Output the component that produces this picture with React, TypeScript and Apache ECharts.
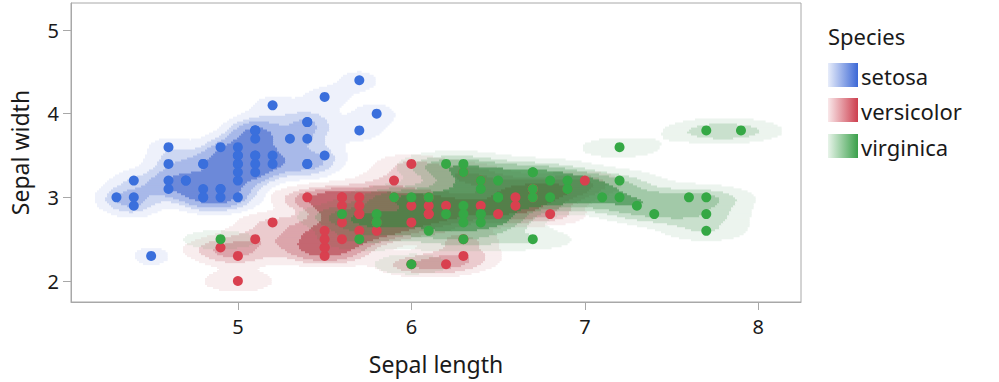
import React, { useEffect, useRef } from 'react';
import * as echarts from 'echarts';

// ---------- data (Fisher's iris, sepal length / sepal width) ----------
const speciesNames = ['setosa', 'versicolor', 'virginica'];

const setosaLength = [5.1,4.9,4.7,4.6,5.0,5.4,4.6,5.0,4.4,4.9,5.4,4.8,4.8,4.3,5.8,5.7,5.4,5.1,5.7,5.1,5.4,5.1,4.6,5.1,4.8,5.0,5.0,5.2,5.2,4.7,4.8,5.4,5.2,5.5,4.9,5.0,5.5,4.9,4.4,5.1,5.0,4.5,4.4,5.0,5.1,4.8,5.1,4.6,5.3,5.0];
const setosaWidth = [3.5,3.0,3.2,3.1,3.6,3.9,3.4,3.4,2.9,3.1,3.7,3.4,3.0,3.0,4.0,4.4,3.9,3.5,3.8,3.8,3.4,3.7,3.6,3.3,3.4,3.0,3.4,3.5,3.4,3.2,3.1,3.4,4.1,4.2,3.1,3.2,3.5,3.6,3.0,3.4,3.5,2.3,3.2,3.5,3.8,3.0,3.8,3.2,3.7,3.3];

const versicolorLength = [7.0,6.4,6.9,5.5,6.5,5.7,6.3,4.9,6.6,5.2,5.0,5.9,6.0,6.1,5.6,6.7,5.6,5.8,6.2,5.6,5.9,6.1,6.3,6.1,6.4,6.6,6.8,6.7,6.0,5.7,5.5,5.5,5.8,6.0,5.4,6.0,6.7,6.3,5.6,5.5,5.5,6.1,5.8,5.0,5.6,5.7,5.7,6.2,5.1,5.7];
const versicolorWidth = [3.2,3.2,3.1,2.3,2.8,2.8,3.3,2.4,2.9,2.7,2.0,3.0,2.2,2.9,2.9,3.1,3.0,2.7,2.2,2.5,3.2,2.8,2.5,2.8,2.9,3.0,2.8,3.0,2.9,2.6,2.4,2.4,2.7,2.7,3.0,3.4,3.1,2.3,3.0,2.5,2.6,3.0,2.6,2.3,2.7,3.0,2.9,2.9,2.5,2.8];

const virginicaLength = [6.3,5.8,7.1,6.3,6.5,7.6,4.9,7.3,6.7,7.2,6.5,6.4,6.8,5.7,5.8,6.4,6.5,7.7,7.7,6.0,6.9,5.6,7.7,6.3,6.7,7.2,6.2,6.1,6.4,7.2,7.4,7.9,6.4,6.3,6.1,7.7,6.3,6.4,6.0,6.9,6.7,6.9,5.8,6.8,6.7,6.7,6.3,6.5,6.2,5.9];
const virginicaWidth = [3.3,2.7,3.0,2.9,3.0,3.0,2.5,2.9,2.5,3.6,3.2,2.7,3.0,2.5,2.8,3.2,3.0,3.8,2.6,2.2,3.2,2.8,2.8,2.7,3.3,3.2,2.8,3.0,2.8,3.0,2.8,3.8,2.8,2.8,2.6,3.0,3.4,3.1,3.0,3.1,3.1,3.1,2.7,3.2,3.3,3.0,2.5,3.0,3.4,3.0];

const xTicks = [5, 6, 7, 8];
const yTicks = [2, 3, 4, 5];

// ---------- styling ----------
const X_MIN = 4.038, X_MAX = 8.246, Y_MIN = 1.749, Y_MAX = 5.323;
const FONT = 'Noto Sans';
const pointColors = ['#3a6fdc', '#d9404f', '#35a845'];
const contourRGB = [[62, 100, 205], [178, 55, 68], [48, 135, 62]];
const legendRGB = [[60, 104, 214], [205, 62, 78], [58, 160, 74]];
// contour levels as fractions of each species' peak density
const levelFractions = [0.085, 0.18, 0.28, 0.45];
const bandAlpha = [0.09, 0.26, 0.45, 0.76];
const BW = 0.3;

function sd(a: number[]) {
  const m = a.reduce((s, v) => s + v, 0) / a.length;
  return Math.sqrt(a.reduce((s, v) => s + (v - m) * (v - m), 0) / (a.length - 1));
}

function buildCells() {
  const groups = [
    [setosaLength, setosaWidth],
    [versicolorLength, versicolorWidth],
    [virginicaLength, virginicaWidth],
  ];
  const NX = 365, NY = 150;
  const dx = (X_MAX - X_MIN) / NX, dy = (Y_MAX - Y_MIN) / NY;
  const dens: Float64Array[] = [];
  const maxD: number[] = [];
  groups.forEach(([xs, ys]) => {
    const hx = BW * sd(xs), hy = BW * sd(ys);
    const d = new Float64Array(NX * NY);
    let mx = 0;
    for (let j = 0; j < NY; j++) {
      const y = Y_MIN + (j + 0.5) * dy;
      for (let i = 0; i < NX; i++) {
        const x = X_MIN + (i + 0.5) * dx;
        let s = 0;
        for (let k = 0; k < xs.length; k++) {
          const u = (x - xs[k]) / hx, v = (y - ys[k]) / hy;
          const r = u * u + v * v;
          if (r < 40) s += Math.exp(-0.5 * r);
        }
        d[j * NX + i] = s;
        if (s > mx) mx = s;
      }
    }
    dens.push(d);
    maxD.push(mx);
  });
  const palette: string[] = [];
  const palIdx: Record<string, number> = {};
  const cells: number[][] = [];
  for (let j = 0; j < NY; j++) {
    let runStart = -1, runKey = '';
    for (let i = 0; i <= NX; i++) {
      let key = '';
      if (i < NX) {
        let r = 255, g = 255, b = 255, any = false;
        for (let s = 0; s < 3; s++) {
          const v = dens[s][j * NX + i] / maxD[s];
          let band = 0;
          for (let l = 0; l < levelFractions.length; l++) if (v >= levelFractions[l]) band = l + 1;
          if (band > 0) {
            any = true;
            const a = bandAlpha[band - 1];
            const c = contourRGB[s];
            r = r * (1 - a) + c[0] * a;
            g = g * (1 - a) + c[1] * a;
            b = b * (1 - a) + c[2] * a;
          }
        }
        if (any) key = `rgb(${Math.round(r)},${Math.round(g)},${Math.round(b)})`;
      }
      if (key !== runKey) {
        if (runStart >= 0 && runKey !== '') {
          cells.push([X_MIN + runStart * dx, X_MIN + i * dx, Y_MIN + j * dy, Y_MIN + (j + 1) * dy, palIdx[runKey]]);
        }
        runStart = i;
        runKey = key;
        if (key !== '' && palIdx[key] === undefined) {
          palIdx[key] = palette.length;
          palette.push(key);
        }
      }
    }
  }
  return { cells, palette };
}

export default function App() {
  const ref = useRef<HTMLDivElement>(null);
  useEffect(() => {
    if (!ref.current) return;
    const chart = echarts.init(ref.current, null, { renderer: 'svg' });
    const { cells, palette } = buildCells();
    const pts = [
      setosaLength.map((v, i) => [v, setosaWidth[i]]),
      versicolorLength.map((v, i) => [v, versicolorWidth[i]]),
      virginicaLength.map((v, i) => [v, virginicaWidth[i]]),
    ];
    const legendItems: any[] = [
      { type: 'text', x: 828, y: 36, style: { text: 'Species', font: `22px "${FONT}"`, fill: '#1a1a1a', verticalAlign: 'middle' } },
    ];
    const swTop = [63, 98, 134];
    speciesNames.forEach((n, s) => {
      const c = legendRGB[s];
      legendItems.push({
        type: 'rect',
        shape: { x: 828, y: swTop[s], width: 30, height: 24 },
        style: {
          fill: new echarts.graphic.LinearGradient(0, 0, 1, 0, [
            { offset: 0, color: `rgba(${c[0]},${c[1]},${c[2]},0.12)` },
            { offset: 1, color: `rgb(${c[0]},${c[1]},${c[2]})` },
          ]),
        },
      });
      legendItems.push({
        type: 'text', x: 861, y: swTop[s] + 13,
        style: { text: n, font: `22px "${FONT}"`, fill: '#1a1a1a', verticalAlign: 'middle' },
      });
    });
    chart.setOption({
      animation: false,
      grid: { left: 70, right: 198, top: 3, bottom: 80, show: true, borderColor: '#a8a8a8', borderWidth: 1, backgroundColor: 'transparent' },
      xAxis: {
        type: 'value', min: X_MIN, max: X_MAX,
        name: 'Sepal length', nameLocation: 'middle', nameGap: 50,
        nameTextStyle: { fontFamily: FONT, fontSize: 23, color: '#1a1a1a' },
        axisLine: { show: true, lineStyle: { color: '#a8a8a8' } },
        axisTick: { show: true, length: 8, lineStyle: { color: '#a8a8a8' }, customValues: xTicks },
        axisLabel: { fontFamily: FONT, fontSize: 20, color: '#1a1a1a', margin: 14, customValues: xTicks },
        splitLine: { show: false },
      },
      yAxis: {
        type: 'value', min: Y_MIN, max: Y_MAX,
        name: 'Sepal width', nameLocation: 'middle', nameGap: 40,
        nameTextStyle: { fontFamily: FONT, fontSize: 23, color: '#1a1a1a' },
        axisLine: { show: true, lineStyle: { color: '#a8a8a8' } },
        axisTick: { show: true, length: 8, lineStyle: { color: '#a8a8a8' }, customValues: yTicks },
        axisLabel: { fontFamily: FONT, fontSize: 20, color: '#1a1a1a', margin: 12, customValues: yTicks },
        splitLine: { show: false },
      },
      series: [
        {
          type: 'custom',
          clip: true,
          silent: true,
          z: 1,
          dimensions: ['x0', 'x1', 'y0', 'y1', 'c'],
          encode: { x: [0, 1], y: [2, 3] },
          data: cells,
          renderItem: (params: any, api: any) => {
            const p0 = api.coord([api.value(0), api.value(3)]);
            const p1 = api.coord([api.value(1), api.value(2)]);
            return {
              type: 'rect',
              shape: { x: p0[0], y: p0[1], width: p1[0] - p0[0] + 0.6, height: p1[1] - p0[1] + 1 },
              style: { fill: palette[api.value(4)] },
            };
          },
        },
        ...speciesNames.map((n, s) => ({
          type: 'scatter',
          name: n,
          z: 3,
          symbol: 'circle',
          symbolSize: 10,
          itemStyle: { color: pointColors[s], opacity: 1 },
          data: pts[s],
        })),
      ],
      graphic: legendItems,
    });
    return () => chart.dispose();
  }, []);
  return <div ref={ref} style={{ width: 999, height: 382, position: 'absolute', left: 0, top: 0 }} />;
}
